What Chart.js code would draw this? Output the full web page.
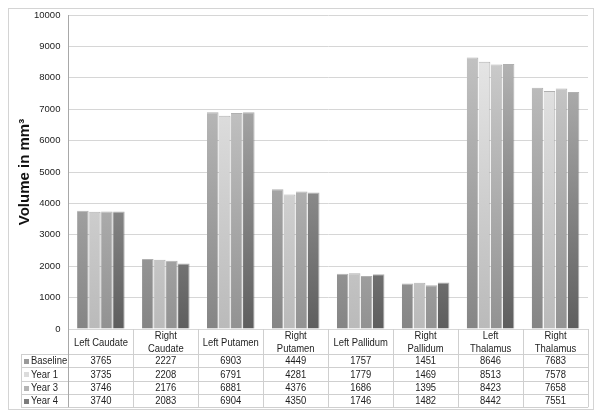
<!DOCTYPE html>
<html>
<head>
<meta charset="utf-8">
<script src="https://cdn.jsdelivr.net/npm/chart.js@4"></script>
<style>
  html, body { margin: 0; padding: 0; background: #fff; }
  #wrap { width: 602px; height: 418px; position: relative; }
</style>
</head>
<body>
<div id="wrap"><canvas id="volChart"></canvas></div>
<script>
// brain structure volumes — bars with data table underneath

const categories = [
  ['Left Caudate'], ['Right', 'Caudate'], ['Left Putamen'], ['Right', 'Putamen'],
  ['Left Pallidum'], ['Right', 'Pallidum'], ['Left', 'Thalamus'], ['Right', 'Thalamus'],
];
const seriesNames = ['Baseline', 'Year 1', 'Year 3', 'Year 4'];
const baseline = [3765, 2227, 6903, 4449, 1757, 1451, 8646, 7683];
const year1    = [3735, 2208, 6791, 4281, 1779, 1469, 8513, 7578];
const year3    = [3746, 2176, 6881, 4376, 1686, 1395, 8423, 7658];
const year4    = [3740, 2083, 6904, 4350, 1746, 1482, 8442, 7551];
const yTicks   = [0, 1000, 2000, 3000, 4000, 5000, 6000, 7000, 8000, 9000, 10000];

// top / bottom shade of each series
const shades = [
  ['#cbcbcb', '#858585'],
  ['#ececec', '#bababa'],
  ['#d4d4d4', '#929292'],
  ['#c2c2c2', '#5e5e5e'],
];
const keyColors = ['#9a9a9a', '#dcdcdc', '#b4b4b4', '#7c7c7c'];

const FONT = 'Liberation Sans, Arial, Helvetica, sans-serif';
const ROW_H = 13.3;
const HEAD_H = 25;
const SQUEEZE = 0.82; // table text is narrow in the reference

function narrowText(c, text, x, y) {
  c.save();
  c.translate(x, y);
  c.scale(SQUEEZE, 1);
  c.fillText(text, 0, 0);
  c.restore();
}

function fill(i) {
  return ctx => {
    const area = ctx.chart.chartArea;
    if (!area) return shades[i][1];
    const g = ctx.chart.ctx.createLinearGradient(0, area.top, 0, area.bottom);
    g.addColorStop(0, shades[i][0]);
    g.addColorStop(1, shades[i][1]);
    return g;
  };
}

const tablePlugin = {
  id: 'dataTable',
  afterDraw(chart) {
    const c = chart.ctx;
    const x = chart.scales.x;
    const area = chart.chartArea;
    const colW = (area.right - area.left) / categories.length;
    const top = area.bottom;
    const rowsTop = top + HEAD_H;
    const bottom = rowsTop + ROW_H * seriesNames.length;
    const labelLeft = 21;
    c.save();
    c.strokeStyle = '#cfcfcf';
    c.lineWidth = 1;
    c.beginPath();
    // vertical lines
    for (let i = 1; i <= categories.length; i++) {
      const px = Math.round(area.left + i * colW) + 0.5;
      c.moveTo(px, top); c.lineTo(px, bottom);
    }
    c.moveTo(labelLeft + 0.5, rowsTop); c.lineTo(labelLeft + 0.5, bottom);
    // horizontal lines
    for (let r = 0; r <= seriesNames.length; r++) {
      const py = Math.round(rowsTop + r * ROW_H) + 0.5;
      c.moveTo(labelLeft, py); c.lineTo(area.right, py);
    }
    c.stroke();
    c.strokeStyle = '#a8a8a8';
    c.beginPath();
    c.moveTo(Math.round(area.left) + 0.5, top); c.lineTo(Math.round(area.left) + 0.5, bottom);
    c.stroke();

    c.fillStyle = '#1e1e1e';
    c.font = '11.5px ' + FONT;
    c.textAlign = 'center';
    c.textBaseline = 'middle';
    categories.forEach((lines, i) => {
      const cx = x.getPixelForValue(i);
      const mid = top + HEAD_H / 2 + 1;
      lines.forEach((t, k) => {
        narrowText(c, t, cx, mid + (k - (lines.length - 1) / 2) * 12.5);
      });
    });
    const data = chart.data.datasets.map(d => d.data);
    data.forEach((vals, r) => {
      const cy = rowsTop + r * ROW_H + ROW_H / 2 + 0.5;
      vals.forEach((v, i) => {
        narrowText(c, String(v), x.getPixelForValue(i), cy);
      });
      // row label with key
      c.fillStyle = keyColors[r];
      c.fillRect(labelLeft + 3, Math.round(cy) - 2, 5, 5);
      c.fillStyle = '#1e1e1e';
      c.textAlign = 'left';
      narrowText(c, seriesNames[r], labelLeft + 10, cy);
      c.textAlign = 'center';
    });

    // outer frame
    c.strokeStyle = '#d4d4d4';
    c.strokeRect(8.5, 8.5, 585, 401);
    c.restore();
  }
};

const seriesData = [baseline, year1, year3, year4];

new Chart(document.getElementById('volChart'), {
  type: 'bar',
  data: {
    labels: categories.map(l => l.join(' ')),
    datasets: seriesNames.map((name, i) => ({
      label: name,
      data: seriesData[i],
      backgroundColor: fill(i),
      borderColor: 'rgba(80,80,80,0.45)',
      borderWidth: { left: 0, right: 1, top: 1, bottom: 0 },
      borderSkipped: 'bottom',
      barPercentage: 0.96,
      categoryPercentage: 0.74,
    })),
  },
  options: {
    responsive: true,
    maintainAspectRatio: false,
    animation: false,
    layout: { padding: { left: 16, right: 14, top: 15, bottom: 89 } },
    plugins: { legend: { display: false }, tooltip: { enabled: false } },
    scales: {
      x: {
        display: false,
        grid: { display: false },
      },
      y: {
        min: 0,
        max: 10000,
        afterBuildTicks: axis => { axis.ticks = yTicks.map(v => ({ value: v })); },
        grid: { color: '#d6d6d6', drawTicks: false },
        border: { color: '#a8a8a8' },
        ticks: {
          padding: 8, color: '#222',
          font: { family: FONT, size: 9.5 },
          callback: v => String(v),
        },
        title: {
          display: true,
          text: 'Volume in mm³',
          color: '#111',
          font: { family: FONT, size: 15, weight: 'bold' },
          padding: { top: 0, bottom: -8 },
        },
      },
    },
  },
  plugins: [tablePlugin],
});
</script>
</body>
</html>
